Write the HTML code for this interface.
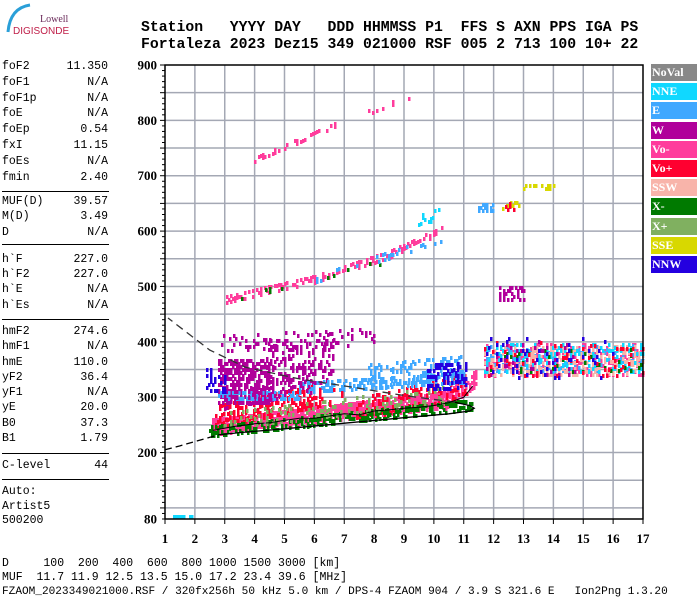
<!DOCTYPE html>
<html><head><meta charset="utf-8"><style>
body{margin:0;background:#fff;width:700px;height:600px;overflow:hidden;position:relative;font-family:"Liberation Mono",monospace}
.t{position:absolute;white-space:pre;font-size:11.5px;color:#000;line-height:12px}
.hd{position:absolute;white-space:pre;font-family:"Liberation Mono",monospace;font-weight:bold;font-size:14.8px;left:141px}
.sep{position:absolute;left:2px;width:107px;height:0;border-top:1.5px solid #000}
.lg{position:absolute;left:651px;width:46px;height:17px;color:#fff;font:bold 12px "Liberation Serif",serif;line-height:17px;padding-left:1px;box-sizing:border-box}
</style></head><body>
<svg style="position:absolute;left:0;top:0" width="75" height="40">
<path d="M8,32 Q10,8 30,5" stroke="#2a9fd8" stroke-width="3" fill="none"/>
<text x="40" y="22" font-family="Liberation Serif,serif" font-size="10" fill="#6a2a5a">Lowell</text>
<text x="13" y="34" font-family="Liberation Sans,sans-serif" font-size="10" fill="#c0204a">DIGISONDE</text>
</svg>
<div class="hd" style="top:20px">Station   YYYY DAY   DDD HHMMSS P1  FFS S AXN PPS IGA PS</div>
<div class="hd" style="top:37px">Fortaleza 2023 Dez15 349 021000 RSF 005 2 713 100 10+ 22</div>
<div id="panel"></div>
<div class="t" style="left:2px;top:558px">D     100  200  400  600  800 1000 1500 3000 [km]</div>
<div class="t" style="left:2px;top:572px">MUF  11.7 11.9 12.5 13.5 15.0 17.2 23.4 39.6 [MHz]</div>
<div class="t" style="left:2px;top:586px;font-size:11.1px">FZAOM_2023349021000.RSF / 320fx256h 50 kHz 5.0 km / DPS-4 FZAOM 904 / 3.9 S 321.6 E   Ion2Png 1.3.20</div>
<div id="legend"></div>
<svg id="plot" style="position:absolute;left:0;top:0" width="700" height="600"></svg>
<script>
const pRows=[["foF2","11.350",67.3],["foF1","N/A",83],["foF1p","N/A",98.7],["foE","N/A",114.3],["foEp","0.54",130],["fxI","11.15",146],["foEs","N/A",162],["fmin","2.40",178],
["MUF(D)","39.57",201.7],["M(D)","3.49",217],["D","N/A",232.7],["h`F","227.0",260],["h`F2","227.0",275],["h`E","N/A",290],["h`Es","N/A",306],
["hmF2","274.6",332],["hmF1","N/A",347],["hmE","110.0",362.7],["yF2","36.4",377.7],["yF1","N/A",393],["yE","20.0",408],["B0","37.3",424],["B1","1.79",439],["C-level","44",465.7]];
const panel=document.getElementById('panel');
pRows.forEach(r=>{
 const a=document.createElement('div');a.className='t';a.style.left='2px';a.style.top=(r[2]-6)+'px';a.textContent=r[0];
 
 
 panel.appendChild(a);
 const b=document.createElement('div');b.className='t';b.style.right=(700-108)+'px';b.style.top=(r[2]-6)+'px';b.textContent=r[1];
 
 
 panel.appendChild(b);
});
[191,244,319,452.7,479].forEach(y=>{const s=document.createElement('div');s.className='sep';s.style.top=y+'px';
 
 
 panel.appendChild(s);});
[["Auto:",491.7],["Artist5",506.7],["500200",520.7]].forEach(r=>{const a=document.createElement('div');a.className='t';a.style.left='2px';a.style.top=(r[1]-6)+'px';a.textContent=r[0];
 
 
 panel.appendChild(a);});
const legNames=["NoVal","NNE","E","W","Vo-","Vo+","SSW","X-","X+","SSE","NNW"];
const legColors=["#888888","#10d8ff","#40a8ff","#b0009a","#ff3c9c","#ff0030","#f8b4aa","#007a00","#80b060","#d8d800","#2400e0"];
const COL={};legNames.forEach((n,i)=>COL[n]=legColors[i]);
const lg=document.getElementById('legend');
legNames.forEach((n,i)=>{const d=document.createElement('div');d.className='lg';d.style.top=(64+i*19.2)+'px';d.style.background=legColors[i];d.textContent=n;
 
 
 lg.appendChild(d);});

const xTicks=[1,2,3,4,5,6,7,8,9,10,11,12,13,14,15,16,17];
const yTicks=[900,800,700,600,500,400,300,200];
const segF0=[2.6,10.4,2.7,7.4,2.5,3,2.8,4.4,2.8,5.5,7.8,9.8,2.4,3,2.9,5.3,
 11.7,11.7,11.7,11.7,11.7,11.7,11.7,11.7,3,6,8.5,3.5,6,4,7.8,12.2,13,11.5,12.3,12.4,9.5,1.3];
const segF1=[10.5,11.4,6.2,11.1,11.3,10.4,4.6,6.6,5.5,11,11,11.1,3,6,8,7,
 17,17,17,17,17,15,17,16,6,8.5,10.3,8.5,10.3,6.8,9.2,13,14,12,12.9,12.8,10.2,2];
const segH0=[248,295,265,278,240,258,330,365,303,318,340,338,332,300,398,300,
 368,370,366,372,365,372,370,372,478,515,560,480,515,730,815,488,680,642,648,645,622,85];
const segH1=[298,335,305,322,288,305,330,365,303,336,355,340,330,330,410,300,
 370,372,368,372,368,372,370,372,515,560,605,548,590,795,845,488,680,642,648,645,632,85];
const segT=[26,30,40,40,16,30,75,80,14,18,40,45,40,40,30,30,
 55,45,50,50,40,60,60,70,10,10,10,8,10,8,8,25,8,14,10,12,18,4];
const segMode=["Vo-","Vo-","Vo+","Vo+","X-","X+","W","W","E","E","E","NNW","NNW","W","W","Vo+",
 "Vo-","E","SSW","NNE","X-","W","Vo+","NNW","Vo-","Vo-","Vo-","X-","E","Vo-","Vo-","W","SSE","E","SSE","Vo+","NNE","NNE"];
const segD=[0.8,0.6,0.35,0.3,0.45,0.18,0.6,0.25,0.55,0.45,0.3,0.45,0.3,0.2,0.12,0.08,
 0.22,0.2,0.3,0.15,0.07,0.06,0.06,0.05,0.45,0.45,0.4,0.12,0.1,0.3,0.3,0.4,0.35,0.35,0.3,0.2,0.15,0.6];
const lowF=[1.0,1.5,2.0,2.8,3.5,5,7,9,10.5,11.2,11.35,11.2];
const lowH=[205,212,220,232,236,243,253,263,270,275,280,285];
const upF=[11.2,10.7,9,7.5,5.5,3.7,2.5,1.1];
const upH=[285,291,303,316,333,354,385,443];
const trF=[2.6,3.3,4,4.5,5,5.5,6,6.5,7,7.5,8,8.5,9,9.5,10,10.5,11,11.3];
const trH=[240,247,252,254,258,262,262,266,270,268,275,277,280,282,285,290,300,320];

const svg=document.getElementById('plot');const NS='http://www.w3.org/2000/svg';
const X0=165,X1=643,Y0=65,Y1=519;
const X=f=>X0+(f-1)*(X1-X0)/16;
const Y=h=>Y0+(900-h)*(Y1-Y0)/820;
function el(t,a,name,inter){const e=document.createElementNS(NS,t);for(const k in a)e.setAttribute(k,a[k]);
 
 
 svg.appendChild(e);return e;}
for(let h=850;h>=100;h-=50){el('line',{x1:X0,x2:X1,y1:Y(h),y2:Y(h),stroke:'#a4a8b4','stroke-width':1.5},'h-gridline');}
xTicks.forEach(f=>{if(f>1&&f<17)el('line',{x1:X(f),x2:X(f),y1:Y0,y2:Y1,stroke:'#a4a8b4','stroke-width':1.5},'v-gridline');});
function hs(i,j,k){let v=(i*374761393+j*668265263+k*1274126177)|0;v=(v^(v>>>13))*1274126177|0;return ((v^(v>>>16))>>>0)/4294967296;}
const g=el('g',{},'echo-marks');
for(let s=0;s<segF0.length;s++){
 const xa=X(segF0[s]),xb=X(segF1[s]);
 for(let x=Math.floor(xa);x<=xb;x+=2){
  const fr=(x-xa)/Math.max(1,xb-xa);
  const hc=segH0[s]+(segH1[s]-segH0[s])*fr;
  const ya=Y(hc+segT[s]/2),yb=Y(hc-segT[s]/2);
  for(let y=Math.floor(ya);y<=yb;y+=3){
   if(hs(x,y,s+1)<segD[s]){
    const r=document.createElementNS(NS,'rect');
    r.setAttribute('x',x);r.setAttribute('y',y);r.setAttribute('width',2.5);r.setAttribute('height',4);r.setAttribute('fill',COL[segMode[s]]);
    
    
    g.appendChild(r);
   }
  }
 }
}
const pts=(F,H)=>F.map((f,i)=>X(f).toFixed(1)+','+Y(H[i]).toFixed(1)).join(' ');
el('polyline',{points:pts(lowF.slice(0,4),lowH.slice(0,4)),fill:'none',stroke:'#000','stroke-width':1.3,'stroke-dasharray':'7,4'},'profile-lower-dashed');
el('polyline',{points:pts(lowF.slice(3),lowH.slice(3)),fill:'none',stroke:'#000','stroke-width':1.3},'profile-lower');
el('polyline',{points:pts(upF.slice(0,2),upH.slice(0,2)),fill:'none',stroke:'#000','stroke-width':1.3},'profile-upper');
el('polyline',{points:pts(upF.slice(1),upH.slice(1)),fill:'none',stroke:'#333','stroke-width':1.3,'stroke-dasharray':'8,5'},'profile-upper-dashed');
el('polyline',{points:pts(trF,trH),fill:'none',stroke:'#000','stroke-width':1},'trace-line');
el('rect',{x:X0,y:Y0,width:X1-X0,height:Y1-Y0,fill:'none',stroke:'#000','stroke-width':1.5},'plot-frame');
for(let h=80;h<=900;h+=10){el('line',{x1:X0-(h%50==0?5:3),x2:X0,y1:Y(h),y2:Y(h),stroke:'#000','stroke-width':1},'y-tick');}
xTicks.forEach(f=>{el('line',{x1:X(f),x2:X(f),y1:Y1,y2:Y1+5,stroke:'#000','stroke-width':1},'x-tick');
 const t=el('text',{x:X(f),y:543,'text-anchor':'middle','font-family':'Liberation Serif,serif','font-weight':'bold','font-size':13},'x-tick-label');t.textContent=f;});
yTicks.concat([80]).forEach(h=>{const t=el('text',{x:157,y:Y(h)+4.5,'text-anchor':'end','font-family':'Liberation Serif,serif','font-weight':'bold','font-size':13},'y-tick-label');t.textContent=h;});
</script>
</body></html>
